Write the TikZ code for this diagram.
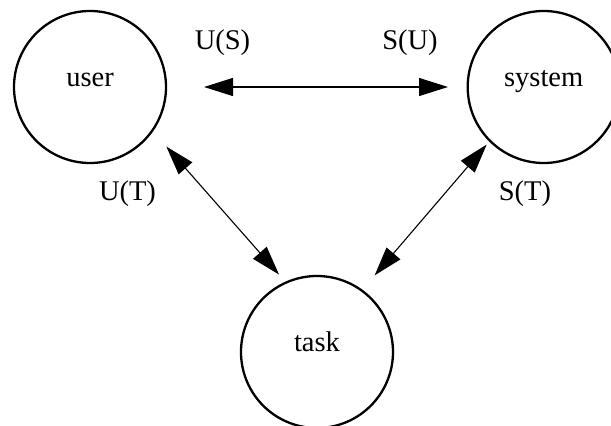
\documentclass[tikz,border=0pt]{standalone}
\usepackage{fontspec}
\setmainfont{Liberation Serif}
\usepackage{tikz}
\usetikzlibrary{arrows.meta,positioning}

\tikzset{
  party/.style={draw, circle, line width=2.3pt, minimum size=152pt, inner sep=0pt, outer sep=0pt,
    text height=0pt, text depth=2pt},
  link/.style={{Triangle[length=29pt,width=18pt]}-{Triangle[length=29pt,width=18pt]}, line width=1.1pt},
  view/.style={inner sep=0pt}
}

\begin{document}
\begin{tikzpicture}[x=1pt, y=-1pt, font=\fontsize{28.5}{32}\selectfont]
  \useasboundingbox (0,0) rectangle (611,426);

  \node [party] (user) at (90,87) {user};
  \node [party] (system) at (543.7,87) {system};
  \node [party] (task) at (317,352) {task};

  \node [view] (us) at (222.5,42.5) {U(S)};
  \node [view] (su) at (410,42.5) {S(U)};
  \node [view] (ut) at (127.5,193.3) {U(T)};
  \node [view] (st) at (525,193.3) {S(T)};

  \draw [link, shorten <=38pt, shorten >=19.7pt] (user.east) -- (system.west);
  \draw [link, shorten <=21.3pt, shorten >=10.7pt] (user.-35.4) -- (task.114.9);
  \draw [link, shorten <=5.1pt, shorten >=19.9pt] (system.225.4) -- (task.54.7);
\end{tikzpicture}
\end{document}
